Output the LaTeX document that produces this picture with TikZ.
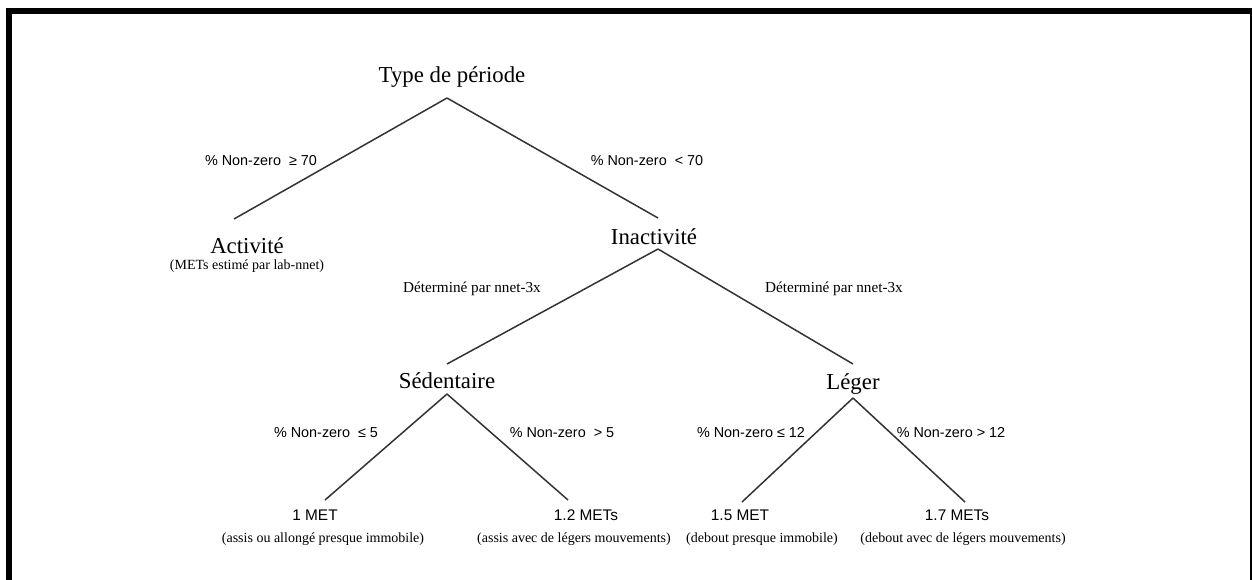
\documentclass[tikz,border=0pt]{standalone}
\usepackage{fontspec}
\setmainfont{Liberation Serif}
\setsansfont{Liberation Sans}
\usetikzlibrary{positioning,calc}

\newcommand{\catsize}{\fontsize{11.4pt}{13pt}\selectfont}
\newcommand{\condsize}{\sffamily\fontsize{7.2pt}{9pt}\selectfont}
\newcommand{\metsize}{\sffamily\fontsize{7.7pt}{9pt}\selectfont}
\newcommand{\detsize}{\fontsize{7.6pt}{9pt}\selectfont}
\newcommand{\notesize}{\fontsize{7pt}{9pt}\selectfont}

\begin{document}
\begin{tikzpicture}[x=0.5pt,y=-0.5pt]

\tikzstyle{cat}=[font=\catsize,inner sep=0pt,anchor=base]
\tikzstyle{cond}=[font=\condsize,inner sep=0pt,anchor=base]
\tikzstyle{met}=[font=\metsize,inner sep=0pt,anchor=base]
\tikzstyle{det}=[font=\detsize,inner sep=0pt,anchor=base]
\tikzstyle{note}=[font=\notesize,inner sep=0pt,anchor=base]
\tikzstyle{branch}=[draw=black!80,line width=0.75pt]

\useasboundingbox (0,0) rectangle (1252,579);

% cadre
\begin{scope}
\clip (0,0) rectangle (1252,579);
\draw[line width=3pt] (9,600) |- (1253,11) -- (1253,600);
\end{scope}

% niveaux
\node[cat] (type) at (452,82) {Type de période};
\node[cat] (act) at (247,253) {Activité};
\node[note] (actnote) at (247,269) {(METs estimé par lab-nnet)};
\node[cat] (inact) at (654,244) {Inactivité};
\node[cat] (sed) at (447,388) {Sédentaire};
\node[cat] (leg) at (853,389) {Léger};

% feuilles
\node[met] (met1) at (315,520) {1 MET};
\node[met] (met12) at (586,520) {1.2 METs};
\node[met] (met15) at (740,520) {1.5 MET};
\node[met] (met17) at (957,520) {1.7 METs};

\node[note] (note1) at (323,542) {(assis ou allongé presque immobile)};
\node[note] (note12) at (574,542) {(assis avec de légers mouvements)};
\node[note] (note15) at (762,542) {(debout presque immobile)};
\node[note] (note17) at (963,542) {(debout avec de légers mouvements)};

% conditions
\node[cond] (ge70) at (261,165) {\% Non-zero~ ≥ 70};
\node[cond] (lt70) at (647,165) {\% Non-zero~ < 70};
\node[det] (detL) at (472,292) {Déterminé par nnet-3x};
\node[det] (detR) at (834,292) {Déterminé par nnet-3x};
\node[cond] (le5) at (326,437) {\% Non-zero~ ≤ 5};
\node[cond] (gt5) at (562,437) {\% Non-zero~ > 5};
\node[cond] (le12) at (751,437) {\% Non-zero ≤ 12};
\node[cond] (gt12) at (951,437) {\% Non-zero > 12};

% branches
\draw[branch] ($(type.base)+(-5,16)$) -- ($(act.base)+(-13,-34)$);
\draw[branch] ($(type.base)+(-5,16)$) -- ($(inact.base)+(4,-26)$);

\draw[branch] ($(inact.base)+(4,5)$) -- ($(sed.base)+(0,-24)$);
\draw[branch] ($(inact.base)+(4,5)$) -- ($(leg.base)+(0,-25)$);

\draw[branch] ($(sed.base)+(0,6)$) -- ($(met1.base)+(10,-20)$);
\draw[branch] ($(sed.base)+(0,6)$) -- ($(met12.base)+(-18,-20)$);

\draw[branch] ($(leg.base)+(0,9)$) -- ($(met15.base)+(2,-18)$);
\draw[branch] ($(leg.base)+(0,9)$) -- ($(met17.base)+(8,-18)$);

\end{tikzpicture}
\end{document}
